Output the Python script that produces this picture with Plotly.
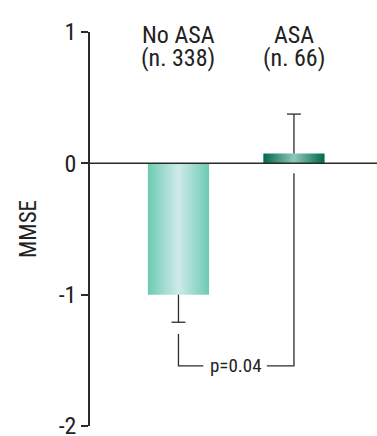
import plotly.graph_objects as go

# ---- data ----
groups = ["No ASA", "ASA"]
group_n = ["(n. 338)", "(n. 66)"]
means = [-1.0, 0.075]
err_plus = [0.0, 0.30]
err_minus = [0.21, 0.0]
p_label = "p=0.04"
y_ticks = [1, 0, -1, -2]
y_title = "MMSE"

edge_colors = ["#6ccbb2", "#00684e"]
mid_colors = ["#cfeaea", "#8fc8b8"]

FONT = "Liberation Sans Narrow, Roboto Condensed, DejaVu Sans Condensed, Arial Narrow, sans-serif"
TXT = "#222222"
LINE = "#2b2b2b"
bar_w = 0.53
cap_hw = 0.06

fig = go.Figure()
xs = list(range(len(groups)))
for i, (x, m) in enumerate(zip(xs, means)):
    x0, x1 = x - bar_w / 2, x + bar_w / 2
    fig.add_trace(go.Scatter(
        x=[x0, x1, x1, x0, x0], y=[0, 0, m, m, 0],
        mode="lines", line=dict(width=0), fill="toself",
        fillgradient=dict(type="horizontal", start=x0, stop=x1,
                          colorscale=[[0, edge_colors[i]], [0.5, mid_colors[i]], [1, edge_colors[i]]]),
        hoverinfo="skip", showlegend=False))

# one-sided error bars (stem + cap at the tip only)
for x, m, ep, em in zip(xs, means, err_plus, err_minus):
    tip = m + ep if ep > 0 else m - em
    fig.add_trace(go.Scatter(
        x=[x, x, None, x - cap_hw, x + cap_hw], y=[m, tip, None, tip, tip],
        mode="lines", line=dict(color=LINE, width=1.3),
        showlegend=False, hoverinfo="skip"))

# p-value bracket
br_y = -1.542
left_top = means[0] - err_minus[0] - 0.09
right_top = -0.076
gap_l, gap_r = 0.215, 0.765
line = dict(color=LINE, width=1.3)
fig.add_trace(go.Scatter(x=[xs[0], xs[0], gap_l], y=[left_top, br_y, br_y],
                         mode="lines", line=line, showlegend=False, hoverinfo="skip"))
fig.add_trace(go.Scatter(x=[gap_r, xs[1], xs[1]], y=[br_y, br_y, right_top],
                         mode="lines", line=line, showlegend=False, hoverinfo="skip"))
fig.add_annotation(x=(xs[0] + xs[1]) / 2, y=br_y, text=p_label, showarrow=False,
                   font=dict(family=FONT, size=19, color=TXT))

# group labels (two tightly spaced lines)
for x, g, n in zip(xs, groups, group_n):
    fig.add_annotation(x=x, y=1, yref="y", text=g, showarrow=False,
                       yanchor="top", yshift=13,
                       font=dict(family=FONT, size=24, color=TXT))
    fig.add_annotation(x=x, y=1, yref="y", text=n, showarrow=False,
                       yanchor="top", yshift=-10,
                       font=dict(family=FONT, size=24, color=TXT))

# zero line
fig.add_shape(type="line", xref="paper", yref="y", x0=0, x1=1, y0=0, y1=0,
              line=dict(color=LINE, width=1.5))

fig.update_layout(
    width=377, height=436,
    margin=dict(l=90, r=0, t=32, b=10),
    paper_bgcolor="white", plot_bgcolor="white",
    font=dict(family=FONT, color=TXT),
    showlegend=False,
    xaxis=dict(range=[-0.766, 1.719], visible=False, fixedrange=True),
    yaxis=dict(range=[-2, 1], tickvals=y_ticks, ticktext=[str(t) for t in y_ticks],
               showgrid=False, zeroline=False, showline=True, linecolor=LINE,
               linewidth=1.5, ticks="outside", ticklen=7, tickcolor=LINE,
               tickwidth=1.5, tickfont=dict(family=FONT, size=24, color=TXT),
               ticklabeloverflow="allow", automargin=False,
               title=dict(text=y_title, font=dict(family=FONT, size=23, color=TXT), standoff=16),
               fixedrange=True),
)

fig.write_html("out.html", config={"displayModeBar": False},
               post_script="document.body.style.margin='0px';")
